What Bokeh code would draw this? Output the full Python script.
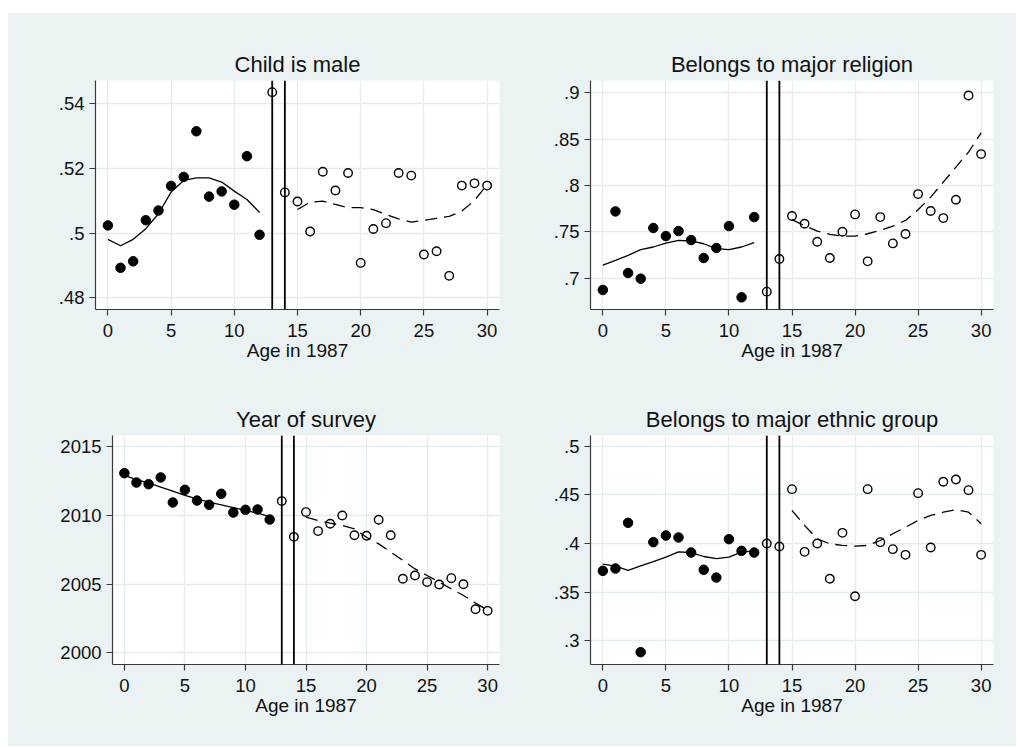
from bokeh.plotting import figure
from bokeh.layouts import column, row
from bokeh.models import Range1d, Span, FixedTicker
from bokeh.embed import file_html
from bokeh.resources import INLINE

# ---------------- data ----------------
ages = list(range(31))
ages_fit_pre = list(range(0, 13))
ages_fit_post = list(range(15, 31))
x_ticks = [0, 5, 10, 15, 20, 25, 30]
cutoffs = [13, 14]
n_filled = 13  # ages 0-12 drawn as filled markers

male_means = [0.5024, 0.4893, 0.4913, 0.5040, 0.5070, 0.5146, 0.5174, 0.5315,
              0.5113, 0.5129, 0.5088, 0.5238, 0.4995, 0.5436, 0.5126, 0.5098,
              0.5005, 0.5190, 0.5132, 0.5186, 0.4908, 0.5013, 0.5031, 0.5186,
              0.5178, 0.4934, 0.4944, 0.4868, 0.5147, 0.5154, 0.5147]
male_fit_pre = [0.4981, 0.4961, 0.4981, 0.5014, 0.5060, 0.5127, 0.5163,
                0.5171, 0.5171, 0.5158, 0.5130, 0.5104, 0.5064]
male_fit_post = [0.5073, 0.5096, 0.5099, 0.5089, 0.5079, 0.5079, 0.5073,
                 0.5058, 0.5044, 0.5034, 0.5040, 0.5046, 0.5052, 0.5068,
                 0.5101, 0.5150]
male_ticks = [0.48, 0.50, 0.52, 0.54]
male_tick_labels = [".48", ".5", ".52", ".54"]

rel_means = [0.6871, 0.7719, 0.7054, 0.6993, 0.7540, 0.7453, 0.7507, 0.7410,
             0.7216, 0.7324, 0.7561, 0.6791, 0.7658, 0.6853, 0.7205, 0.7669,
             0.7586, 0.7392, 0.7216, 0.7500, 0.7687, 0.7180, 0.7658, 0.7374,
             0.7475, 0.7906, 0.7723, 0.7647, 0.7845, 0.8971, 0.8338]
rel_fit_pre = [0.7140, 0.7190, 0.7245, 0.7306, 0.7335, 0.7378, 0.7406,
               0.7400, 0.7370, 0.7317, 0.7306, 0.7335, 0.7381]
rel_fit_post = [0.7630, 0.7565, 0.7507, 0.7471, 0.7453, 0.7453, 0.7478,
                0.7514, 0.7561, 0.7622, 0.7737, 0.7874, 0.8036, 0.8198,
                0.8360, 0.8568]
rel_ticks = [0.70, 0.75, 0.80, 0.85, 0.90]
rel_tick_labels = [".7", ".75", ".8", ".85", ".9"]

year_means = [2013.06, 2012.38, 2012.26, 2012.75, 2010.93, 2011.85, 2011.07,
              2010.76, 2011.56, 2010.20, 2010.40, 2010.42, 2009.69, 2011.03,
              2008.43, 2010.23, 2008.85, 2009.38, 2009.98, 2008.55, 2008.51,
              2009.67, 2008.55, 2005.38, 2005.62, 2005.14, 2004.97, 2005.43,
              2004.99, 2003.17, 2003.05]
year_fit_pre = [2012.90, 2012.60, 2012.35, 2012.05, 2011.75, 2011.45, 2011.20,
                2010.95, 2010.75, 2010.55, 2010.35, 2010.15, 2009.90]
year_fit_post = [2009.86, 2009.62, 2009.43, 2009.26, 2009.01, 2008.40, 2007.92,
                 2007.32, 2006.71, 2006.10, 2005.62, 2005.14, 2004.65, 2004.17,
                 2003.61, 2003.10]
year_ticks = [2000, 2005, 2010, 2015]
year_tick_labels = ["2000", "2005", "2010", "2015"]

eth_means = [0.3718, 0.3742, 0.4213, 0.2880, 0.4014, 0.4082, 0.4062, 0.3907,
             0.3729, 0.3649, 0.4045, 0.3924, 0.3907, 0.4000, 0.3969, 0.4560,
             0.3914, 0.4000, 0.3636, 0.4110, 0.3457, 0.4560, 0.4014, 0.3942,
             0.3883, 0.4519, 0.3959, 0.4636, 0.4660, 0.4550, 0.3883]
eth_fit_pre = [0.3787, 0.3766, 0.3722, 0.3770, 0.3814, 0.3859, 0.3914,
               0.3907, 0.3866, 0.3845, 0.3859, 0.3911, 0.3924]
eth_fit_post = [0.4340, 0.4186, 0.4048, 0.3997, 0.3980, 0.3973, 0.3980,
                0.4031, 0.4100, 0.4168, 0.4237, 0.4289, 0.4323, 0.4347,
                0.4323, 0.4203]
eth_ticks = [0.30, 0.35, 0.40, 0.45, 0.50]
eth_tick_labels = [".3", ".35", ".4", ".45", ".5"]

titles = ["Child is male", "Belongs to major religion",
          "Year of survey", "Belongs to major ethnic group"]
x_label = "Age in 1987"

# ---------------- style ----------------
BG = "#EAF2F3"
GRID = "#E3ECEE"
AXIS = "#3a3a3a"
TEXT = "#111111"
FONT = "Liberation Sans"


def panel(title, means, fit_pre, fit_post, yticks, ylabels, yrange,
          width, height, left, right, top, bottom):
    p = figure(width=width, height=height,
               x_range=Range1d(-0.98, 30.98), y_range=Range1d(*yrange),
               output_backend="svg", toolbar_location=None,
               min_border_left=left, min_border_right=right,
               min_border_top=top, min_border_bottom=bottom)
    p.background_fill_color = "white"
    p.border_fill_color = BG
    p.outline_line_color = None

    p.title.text = title
    p.title.align = "center"
    p.title.text_font = FONT
    p.title.text_font_size = "22px"
    p.title.text_font_style = "normal"
    p.title.text_color = TEXT
    p.title.standoff = 8

    p.xaxis.ticker = FixedTicker(ticks=x_ticks)
    p.yaxis.ticker = FixedTicker(ticks=yticks)
    p.yaxis.major_label_overrides = {t: l for t, l in zip(yticks, ylabels)}
    p.xaxis.axis_label = x_label
    for ax in (p.xaxis, p.yaxis):
        ax.axis_line_color = AXIS
        ax.axis_line_width = 1.2
        ax.major_tick_line_color = AXIS
        ax.major_tick_line_width = 1.2
        ax.major_tick_out = 6
        ax.major_tick_in = 0
        ax.minor_tick_line_color = None
        ax.major_label_text_font = FONT
        ax.major_label_text_font_size = "18.5px"
        ax.major_label_text_color = TEXT
    p.xaxis.major_label_standoff = 8
    p.yaxis.major_label_standoff = 5
    p.xaxis.axis_label_text_font = FONT
    p.xaxis.axis_label_text_font_size = "19px"
    p.xaxis.axis_label_text_font_style = "normal"
    p.xaxis.axis_label_text_color = TEXT
    p.xaxis.axis_label_standoff = 0

    p.xgrid.grid_line_color = GRID
    p.ygrid.grid_line_color = GRID
    p.xgrid.grid_line_width = 1.3
    p.ygrid.grid_line_width = 1.3

    p.scatter(ages[:n_filled], means[:n_filled], size=9.5,
              fill_color="black", line_color="black")
    p.scatter(ages[n_filled:], means[n_filled:], size=8.5,
              fill_alpha=0, line_color="black", line_width=1.4)
    p.line(ages_fit_pre, fit_pre, line_color="black", line_width=1.3)
    p.line(ages_fit_post, fit_post, line_color="black", line_width=1.3,
           line_dash="12 7")
    for c in cutoffs:
        p.add_layout(Span(location=c, dimension="height",
                          line_color="black", line_width=1.8))
    return p


p1 = panel(titles[0], male_means, male_fit_pre, male_fit_post,
           male_ticks, male_tick_labels, (0.4764, 0.5472),
           499, 367, 87, 8, 67, 71)
p2 = panel(titles[1], rel_means, rel_fit_pre, rel_fit_post,
           rel_ticks, rel_tick_labels, (0.666, 0.9133),
           509, 367, 83, 23, 67, 71)
p3 = panel(titles[2], year_means, year_fit_pre, year_fit_post,
           year_ticks, year_tick_labels, (1999.15, 2015.8),
           499, 366, 104, 8, 55, 82)
p4 = panel(titles[3], eth_means, eth_fit_pre, eth_fit_post,
           eth_ticks, eth_tick_labels, (0.2753, 0.5113),
           509, 366, 83, 23, 55, 82)

layout = column(row(p1, p2, spacing=0, styles={"background-color": BG}),
                row(p3, p4, spacing=0, styles={"background-color": BG}),
                spacing=0, styles={"background-color": BG})
layout.margin = (13, 0, 0, 8)

open("out.html", "w").write(file_html(layout, INLINE))
